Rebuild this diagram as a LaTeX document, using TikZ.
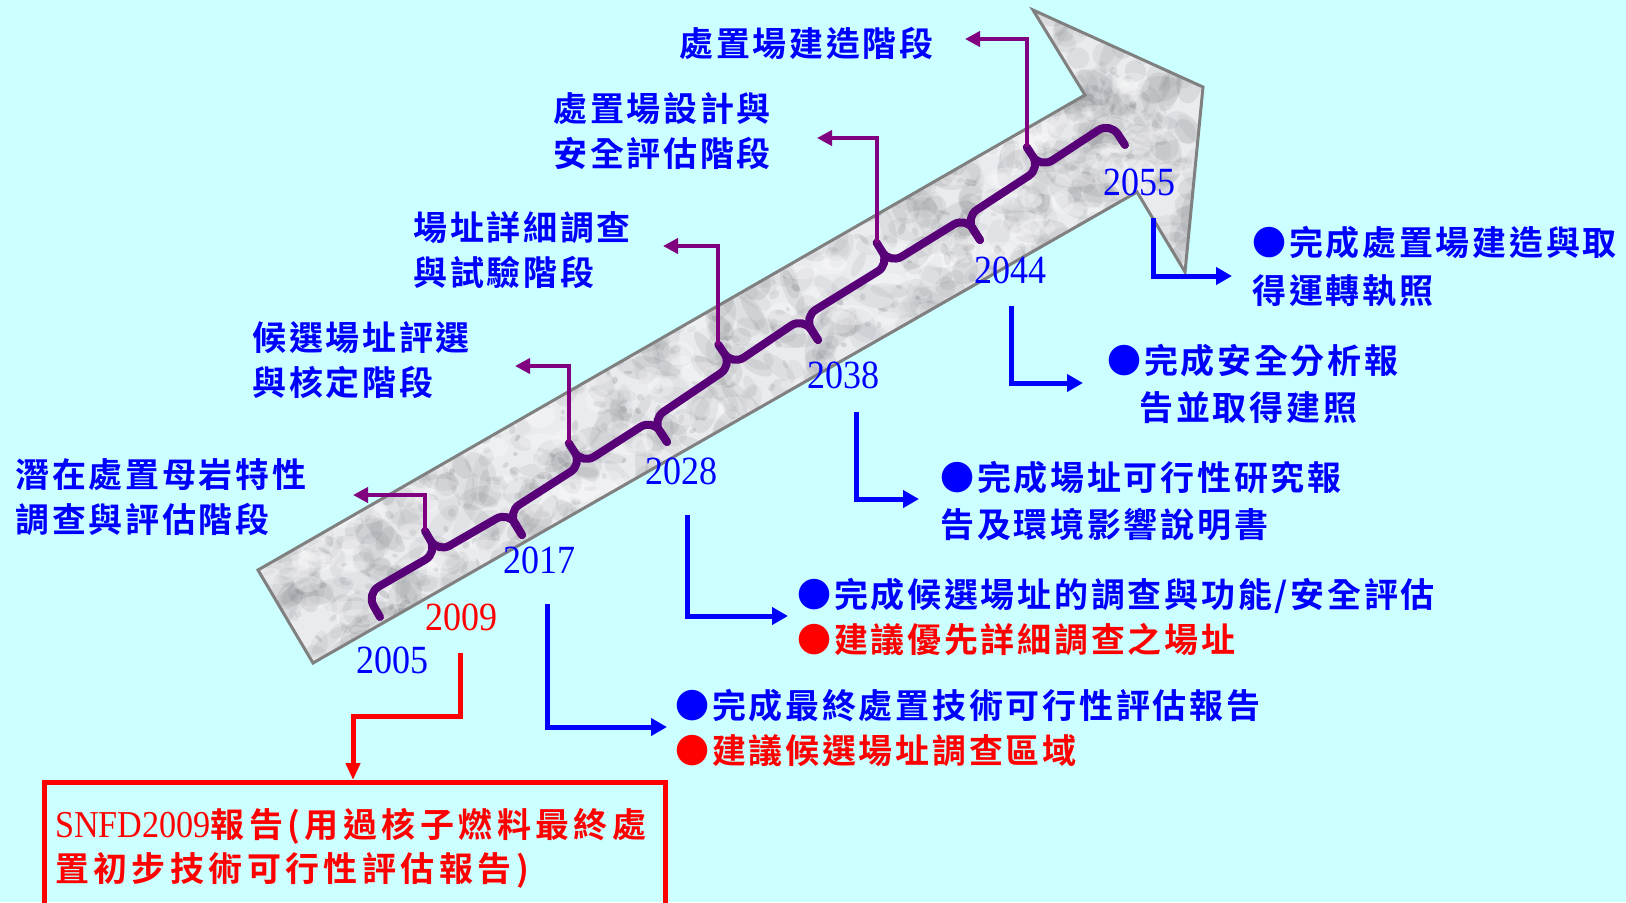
\documentclass[tikz,border=0pt]{standalone}
\usepackage{fontspec}
\usetikzlibrary{arrows.meta,calc}
\newfontfamily\cjk[LetterSpace=8]{Noto Sans CJK TC Bold}
\newfontfamily\cjkwide[LetterSpace=13]{Noto Sans CJK TC Bold}
\newfontfamily\yearfont[FakeStretch=0.9]{Liberation Serif}
\definecolor{bgcyan}{RGB}{204,255,255}
\definecolor{txtblue}{RGB}{0,0,255}
\definecolor{txtred}{RGB}{255,0,0}
\definecolor{bracepurple}{RGB}{88,0,120}
\definecolor{connpurple}{RGB}{128,0,128}
\definecolor{marble}{RGB}{234,235,238}
\definecolor{vein}{RGB}{95,97,102}
\definecolor{arrowedge}{RGB}{128,128,128}
\tikzset{
  stage/.style={font=\cjk\fontsize{17}{22.5}\selectfont, text=txtblue, align=left, anchor=west, inner sep=0pt},
  note/.style={font=\cjk\fontsize{17}{23.75}\selectfont, text=txtblue, align=left, anchor=west, inner sep=0pt},
  notetight/.style={note, font=\cjk\fontsize{17}{22.5}\selectfont},
  year/.style={font=\yearfont\fontsize{20}{24}\selectfont, text=txtblue, inner sep=0pt},
  bracestyle/.style={draw=bracepurple, line width=4pt, line cap=round, line join=round},
  pconn/.style={draw=connpurple, line width=2pt, -{Triangle[length=7.5pt,width=7.5pt]}},
  bconn/.style={draw=txtblue, line width=2.5pt, line join=miter, -{Triangle[length=8pt,width=8.5pt]}},
  rconn/.style={draw=txtred, line width=2.5pt, line join=miter, -{Triangle[length=8.5pt,width=7pt]}},
  redbox/.style={draw=txtred, line width=2.5pt, text=txtred, align=left, anchor=north west,
    inner xsep=5.5pt, inner ysep=13pt, text width=299.5pt, font=\cjkwide\fontsize{17}{22}\selectfont},
}
% curly brace: #1 start tick, #2 angle, #3 length (px), #4 cusp position (px), #5 cusp name
\newcommand\phasebrace[5]{%
  \draw[bracestyle, shift={(#1)}, rotate=#2]
    (0,0) -- (0,-13)
    .. controls (0,-20.7) and (6.3,-27) .. (14,-27)
    -- ({#4-14},-27)
    .. controls ({#4-6.3},-27) and (#4,-33.3) .. (#4,-41)
    -- (#4,-52) coordinate (#5)
    -- (#4,-41)
    .. controls (#4,-33.3) and ({#4+6.3},-27) .. ({#4+14},-27)
    -- ({#3-14},-27)
    .. controls ({#3-6.3},-27) and (#3,-20.7) .. (#3,-13)
    -- (#3,0);}
\begin{document}
\begin{tikzpicture}[x=0.5pt,y=-0.5pt]
\clip (0,0) rectangle (1626,902);
\fill[bgcyan] (0,0) rectangle (1626,902);

% marble arrow
\begin{scope}
  \clip (258,570) -- (1085,95) -- (1033,10) -- (1203,87) -- (1185,272) -- (1137,192) -- (313,663) -- cycle;
  \fill[marble] (200,0) rectangle (1220,700);
  \pgfmathsetseed{4711}
  \foreach \i in {1,...,380}{
    \pgfmathsetmacro\tt{rnd}
    \pgfmathsetmacro\ss{rnd-0.5}
    \pgfmathsetmacro\px{285.5+\tt*874.5+\ss*62}
    \pgfmathsetmacro\py{616.5-\tt*506.5+\ss*104}
    \pgfmathsetmacro\ra{8+18*rnd}
    \pgfmathsetmacro\rb{5+9*rnd}
    \pgfmathsetmacro\an{180*rnd}
    \pgfmathsetmacro\op{0.05+0.07*rnd}
    \fill[vein,opacity=\op,rotate around={\an:(\px,\py)}] (\px,\py) ellipse[x radius=\ra,y radius=\rb];
  }
  \foreach \i in {1,...,110}{
    \pgfmathsetmacro\px{1030+175*rnd}
    \pgfmathsetmacro\py{10+265*rnd}
    \pgfmathsetmacro\ra{8+18*rnd}
    \pgfmathsetmacro\rb{5+9*rnd}
    \pgfmathsetmacro\an{180*rnd}
    \pgfmathsetmacro\op{0.05+0.07*rnd}
    \fill[vein,opacity=\op,rotate around={\an:(\px,\py)}] (\px,\py) ellipse[x radius=\ra,y radius=\rb];
  }
  \foreach \i in {1,...,220}{
    \pgfmathsetmacro\tt{rnd}
    \pgfmathsetmacro\ss{rnd-0.5}
    \pgfmathsetmacro\px{285.5+\tt*874.5+\ss*62}
    \pgfmathsetmacro\py{616.5-\tt*506.5+\ss*104}
    \pgfmathsetmacro\ra{2+5*rnd}
    \pgfmathsetmacro\rb{1.5+2.5*rnd}
    \pgfmathsetmacro\an{180*rnd}
    \pgfmathsetmacro\op{0.08+0.12*rnd}
    \fill[vein,opacity=\op,rotate around={\an:(\px,\py)}] (\px,\py) ellipse[x radius=\ra,y radius=\rb];
  }
  \foreach \i in {1,...,120}{
    \pgfmathsetmacro\tt{rnd}
    \pgfmathsetmacro\ss{rnd-0.5}
    \pgfmathsetmacro\px{285.5+\tt*874.5+\ss*62}
    \pgfmathsetmacro\py{616.5-\tt*506.5+\ss*104}
    \pgfmathsetmacro\ra{8+16*rnd}
    \pgfmathsetmacro\rb{5+9*rnd}
    \fill[white,opacity=0.25] (\px,\py) ellipse[x radius=\ra,y radius=\rb];
  }
\end{scope}
\draw[arrowedge, line width=1.5pt, line join=miter] (258,570) -- (1085,95) -- (1033,10) -- (1203,87) -- (1185,272) -- (1137,192) -- (313,663) -- cycle;

% brace ticks
\coordinate (t0) at (380,617);
\coordinate (t1) at (522,535);
\coordinate (t2) at (667,442);
\coordinate (t3) at (818,340);
\coordinate (t4) at (980,240);
\coordinate (t5) at (1125,145);
\phasebrace{t0}{30.00}{164.00}{82}{c1}
\phasebrace{t1}{32.68}{172.26}{89}{c2}
\phasebrace{t2}{34.04}{182.22}{97}{c3}
\phasebrace{t3}{31.69}{190.38}{101}{c4}
\phasebrace{t4}{33.23}{173.35}{90}{c5}

% purple connectors to stage labels
\coordinate (a1) at (353,495);
\coordinate (a2) at (515,366);
\coordinate (a3) at (663,246);
\coordinate (a4) at (817,138);
\coordinate (a5) at (965,39);
\draw[pconn] (c1) |- (a1);
\draw[pconn] (c2) |- (a2);
\draw[pconn] (c3) |- (a3);
\draw[pconn] (c4) |- (a4);
\draw[pconn] (c5) |- (a5);

% stage labels
\node[stage] (s1) at (15,497.5) {潛在處置母岩特性\\調查與評估階段};
\node[stage] (s2) at (252,360) {候選場址評選\\與核定階段};
\node[stage] (s3) at (413,250.5) {場址詳細調查\\與試驗階段};
\node[stage] (s4) at (553,131.5) {處置場設計與\\安全評估階段};
\node[stage] (s5) at (679,43.5) {處置場建造階段};

% years
\node[year] (y2005) at (392.5,660) {2005};
\node[year,text=txtred] (y2009) at (461,617) {2009};
\node[year] (y2017) at (539,560) {2017};
\node[year] (y2028) at (681,471) {2028};
\node[year] (y2038) at (843.5,375) {2038};
\node[year] (y2044) at (1010,270) {2044};
\node[year] (y2055) at (1139,182) {2055};

% blue connectors
\coordinate (b1s) at (547,604);  \coordinate (b1e) at (667,727);
\coordinate (b2s) at (687,515);  \coordinate (b2e) at (788,616);
\coordinate (b3s) at (856,412);  \coordinate (b3e) at (919,499);
\coordinate (b4s) at (1011,306); \coordinate (b4e) at (1083,383);
\coordinate (b5s) at (1153,218); \coordinate (b5e) at (1232,276);
\draw[bconn] (b1s) |- (b1e);
\draw[bconn] (b2s) |- (b2e);
\draw[bconn] (b3s) |- (b3e);
\draw[bconn] (b4s) |- (b4e);
\draw[bconn] (b5s) |- (b5e);

% milestone notes
\node[note] (r5) at (1252,266.5) {●完成處置場建造與取\\得運轉執照};
\node[note] (r4) at (1107,384) {●完成安全分析報\\\hspace*{16pt}告並取得建照};
\node[note] (r3) at (940,501) {●完成場址可行性研究報\\告及環境影響說明書};
\node[notetight] (r2) at (797,616.5) {●完成候選場址的調查與功能/安全評估\\\textcolor{txtred}{●建議優先詳細調查之場址}};
\node[notetight] (r1) at (675,727.5) {●完成最終處置技術可行性評估報告\\\textcolor{txtred}{●建議候選場址調查區域}};

% red report box
\node[redbox] (box) at (41.5,780) {{\yearfont\fontsize{19}{22}\selectfont SNFD2009}報告(用過核子燃料最終處\\置初步技術可行性評估報告)};
\coordinate (r0) at (460,653);
\coordinate (rk) at (353,716);
\draw[rconn] (r0) |- (rk) -- (rk |- box.north);
\end{tikzpicture}
\end{document}
